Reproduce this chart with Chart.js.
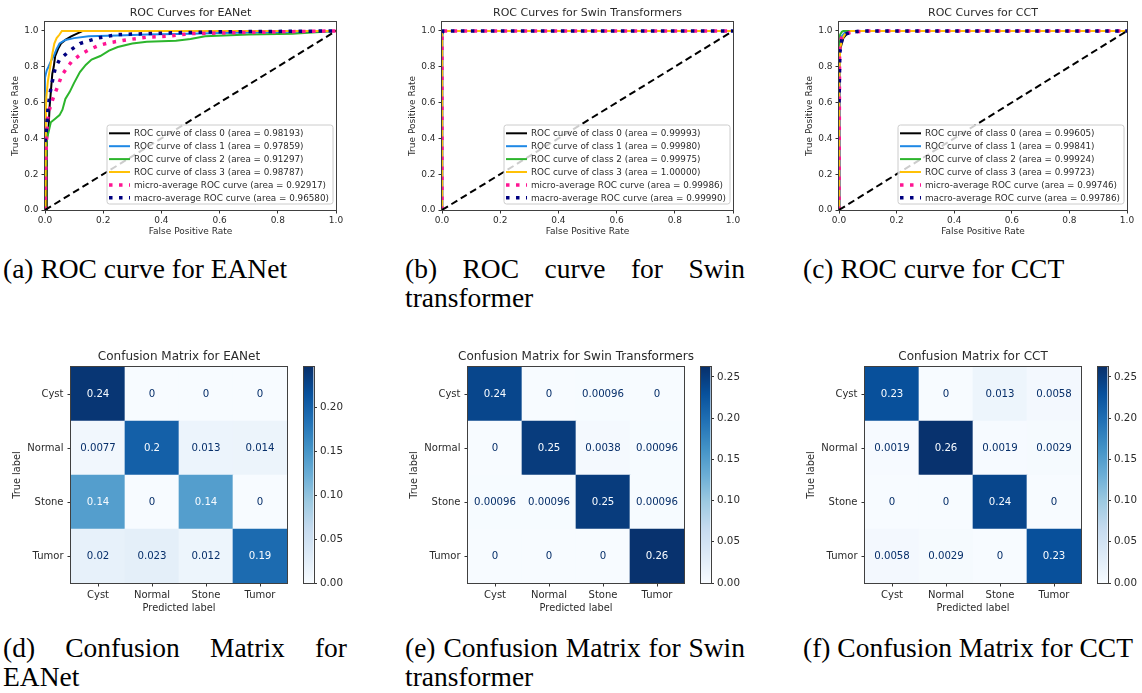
<!DOCTYPE html>
<html>
<head>
<meta charset="utf-8">
<script src="https://cdn.jsdelivr.net/npm/chart.js@4.4.1/dist/chart.umd.min.js"></script>
<style>
  html, body { margin: 0; padding: 0; background: #fff; }
  body { position: relative; width: 1142px; height: 693px; overflow: hidden; }
  canvas { position: absolute; }
  .cap { position: absolute; font-family: 'Liberation Serif', serif; font-size: 27.5px; line-height: 29px;
         color: #000; white-space: nowrap; }
  .cap .full { text-align: justify; text-align-last: justify; }
</style>
</head>
<body>

<div class="cap" style="left:3px;top:254px;width:344px">(a) ROC curve for EANet</div>
<div class="cap" style="left:405px;top:254px;width:340px"><div class="full">(b) ROC curve for Swin</div><div>transformer</div></div>
<div class="cap" style="left:803px;top:254px;width:340px">(c) ROC curve for CCT</div>
<div class="cap" style="left:3px;top:633px;width:344px"><div class="full">(d) Confusion Matrix for</div><div>EANet</div></div>
<div class="cap" style="left:405px;top:633px;width:340px"><div class="full">(e) Confusion Matrix for Swin</div><div>transformer</div></div>
<div class="cap" style="left:803px;top:633px;width:340px">(f) Confusion Matrix for CCT</div>

<script>
// ---- ROC curves: [fpr, tpr] points per class, then micro / macro averages ----
const ROC_TICKS = [0, 0.2, 0.4, 0.6, 0.8, 1.0];
const ROC_SERIES = ['ROC curve of class 0', 'ROC curve of class 1', 'ROC curve of class 2',
                    'ROC curve of class 3', 'micro-average ROC curve', 'macro-average ROC curve'];
const ROC_COLORS = ['#000000', '#1e88e5', '#2cb52c', '#ffc107', '#ff1493', '#000080'];
const DIAGONAL = [[0, 0], [1, 1]];

const EANET_CLASS0 = [[0,0],[0.006,0],[0.006,0.4],[0.012,0.45],[0.016,0.58],[0.02,0.66],[0.025,0.76],[0.03,0.8],
  [0.035,0.86],[0.045,0.9],[0.055,0.93],[0.07,0.95],[0.09,0.97],[0.11,0.985],[0.13,1],[1,1]];
const EANET_CLASS1 = [[0,0],[0,0.74],[0.006,0.78],[0.012,0.8],[0.02,0.83],[0.03,0.86],[0.04,0.9],[0.05,0.93],
  [0.07,0.95],[0.1,0.96],[0.15,0.97],[0.25,0.975],[0.35,0.98],[0.5,0.985],[0.65,0.99],[0.85,0.995],[1,1]];
const EANET_CLASS2 = [[0,0],[0.005,0.38],[0.01,0.42],[0.02,0.49],[0.035,0.51],[0.05,0.53],[0.06,0.56],[0.07,0.62],
  [0.085,0.66],[0.1,0.71],[0.12,0.77],[0.14,0.81],[0.16,0.84],[0.19,0.86],[0.22,0.89],[0.25,0.91],[0.3,0.93],
  [0.35,0.94],[0.45,0.945],[0.5,0.955],[0.55,0.97],[0.7,0.98],[0.85,0.985],[1,1]];
const EANET_CLASS3 = [[0,0],[0.002,0.35],[0.004,0.62],[0.01,0.72],[0.018,0.8],[0.025,0.87],[0.032,0.93],
  [0.04,0.96],[0.05,0.98],[0.058,1],[1,1]];
const EANET_MICRO = [[0,0],[0.003,0.3],[0.006,0.43],[0.011,0.54],[0.029,0.63],[0.046,0.7],[0.057,0.75],[0.074,0.79],
  [0.092,0.83],[0.12,0.866],[0.15,0.894],[0.183,0.918],[0.223,0.935],[0.28,0.95],[0.35,0.965],[0.43,0.972],
  [0.5,0.985],[0.65,0.99],[0.84,0.996],[1,1]];
const EANET_MACRO = [[0,0.38],[0.005,0.45],[0.01,0.56],[0.017,0.65],[0.028,0.74],[0.035,0.79],[0.05,0.84],
  [0.085,0.89],[0.12,0.93],[0.18,0.96],[0.25,0.98],[0.45,0.99],[0.6,0.995],[1,1]];
const EANET_AUC = [0.98193, 0.97859, 0.91297, 0.98787, 0.92917, 0.96580];

const SWIN_CLASS0 = [[0,0],[0,0.995],[0.002,1],[1,1]];
const SWIN_CLASS1 = [[0,0],[0,0.98],[0.008,1],[1,1]];
const SWIN_CLASS2 = [[0,0],[0,0.99],[0.005,1],[1,1]];
const SWIN_CLASS3 = [[0,0],[0,1],[1,1]];
const SWIN_MICRO = [[0,0],[0,0.99],[0.003,1],[1,1]];
const SWIN_MACRO = [[0,0.99],[0.003,1],[1,1]];
const SWIN_AUC = [0.99993, 0.99980, 0.99975, 1.00000, 0.99986, 0.99990];

const CCT_CLASS0 = [[0,0],[0,0.6],[0.003,0.88],[0.008,0.92],[0.015,0.96],[0.025,0.98],[0.035,1],[1,1]];
const CCT_CLASS1 = [[0,0],[0,0.78],[0.004,0.93],[0.01,0.97],[0.02,0.99],[0.03,1],[1,1]];
const CCT_CLASS2 = [[0,0],[0,0.93],[0.004,0.98],[0.01,0.995],[0.015,1],[1,1]];
const CCT_CLASS3 = [[0,0],[0,0.7],[0.004,0.9],[0.01,0.95],[0.02,0.98],[0.04,1],[1,1]];
const CCT_MICRO = [[0,0],[0.002,0.9],[0.008,0.96],[0.02,0.985],[0.05,0.995],[0.1,1],[1,1]];
const CCT_MACRO = [[0,0.6],[0.003,0.88],[0.01,0.955],[0.02,0.98],[0.04,0.993],[0.08,1],[1,1]];
const CCT_AUC = [0.99605, 0.99841, 0.99924, 0.99723, 0.99746, 0.99786];

// ---- confusion matrices (normalised over all samples), rows = true label ----
const CM_LABELS = ['Cyst', 'Normal', 'Stone', 'Tumor'];
const EANET_CM = [[0.24, 0, 0, 0], [0.0077, 0.2, 0.013, 0.014], [0.14, 0, 0.14, 0], [0.02, 0.023, 0.012, 0.19]];
const SWIN_CM = [[0.24, 0, 0.00096, 0], [0, 0.25, 0.0038, 0.00096], [0.00096, 0.00096, 0.25, 0.00096], [0, 0, 0, 0.26]];
const CCT_CM = [[0.23, 0, 0.013, 0.0058], [0.0019, 0.26, 0.0019, 0.0029], [0, 0, 0.24, 0], [0.0058, 0.0029, 0, 0.23]];
const EANET_CB_MAX = 0.2455, SWIN_CB_MAX = 0.262, CCT_CB_MAX = 0.262;
const CB_TICKS_EANET = [0, 0.05, 0.10, 0.15, 0.20];
const CB_TICKS_WIDE = [0, 0.05, 0.10, 0.15, 0.20, 0.25];

Chart.defaults.font.family = "'DejaVu Sans', sans-serif";
Chart.defaults.color = '#2b2b2b';
Chart.defaults.animation = false;
Chart.defaults.plugins.legend.display = false;
Chart.defaults.plugins.tooltip.enabled = false;

const INK = '#333333';
const BLUES = ['#f7fbff', '#deebf7', '#c6dbef', '#9ecae1', '#6baed6', '#4292c6', '#2171b5', '#08519c', '#08306b'];

function hexRgb(h) { return [1, 3, 5].map(i => parseInt(h.slice(i, i + 2), 16)); }

// matplotlib "Blues" lookup, t in [0, 1]
function blues(t) {
  t = Math.max(0, Math.min(1, t));
  const p = t * 8, i = Math.min(7, Math.floor(p)), f = p - i;
  const a = hexRgb(BLUES[i]), b = hexRgb(BLUES[i + 1]);
  return 'rgb(' + a.map((c, k) => Math.round(c + (b[k] - c) * f)).join(',') + ')';
}

function addCanvas(left, top, w, h) {
  const c = document.createElement('canvas');
  c.width = w; c.height = h;
  c.style.left = left + 'px'; c.style.top = top + 'px';
  document.body.appendChild(c);
  return c;
}

// full box around the axes, like matplotlib spines
const axesFrame = {
  id: 'axesFrame',
  afterDatasetsDraw(chart) {
    const a = chart.chartArea, ctx = chart.ctx;
    ctx.save();
    ctx.strokeStyle = '#404040';
    ctx.lineWidth = 1;
    ctx.strokeRect(Math.round(a.left) - 0.5, Math.round(a.top) - 0.5,
                   Math.round(a.right - a.left) + 1, Math.round(a.bottom - a.top) + 1);
    ctx.restore();
  }
};

// boxed legend in the lower right corner of the axes
const rocLegend = {
  id: 'rocLegend',
  afterDraw(chart) {
    const ctx = chart.ctx, a = chart.chartArea;
    const sets = chart.data.datasets.filter(d => d.label);
    ctx.save();
    ctx.font = "8.8px 'DejaVu Sans'";
    const textW = Math.max(...sets.map(d => ctx.measureText(d.label).width));
    const rowH = 12.9, w = 27 + textW + 4, h = 79;
    const x0 = a.right - 3 - w, y0 = a.bottom - 6 - h;
    ctx.beginPath();
    ctx.roundRect(x0, y0, w, h, 2.5);
    ctx.fillStyle = 'rgba(255,255,255,0.8)';
    ctx.fill();
    ctx.strokeStyle = '#cccccc';
    ctx.lineWidth = 1;
    ctx.stroke();
    ctx.textBaseline = 'middle';
    sets.forEach((d, i) => {
      const y = y0 + 8.3 + i * rowH;
      ctx.beginPath();
      ctx.setLineDash(d.borderDash || []);
      ctx.lineWidth = d.borderWidth;
      ctx.strokeStyle = d.borderColor;
      ctx.moveTo(x0 + 2, y);
      ctx.lineTo(x0 + 23, y);
      ctx.stroke();
      ctx.setLineDash([]);
      ctx.fillStyle = '#2b2b2b';
      ctx.fillText(d.label, x0 + 27, y + 0.5);
    });
    ctx.restore();
  }
};

// value printed in every confusion-matrix cell
const cellText = {
  id: 'cellText',
  afterDatasetsDraw(chart) {
    const ctx = chart.ctx;
    ctx.save();
    ctx.font = "10.2px 'DejaVu Sans'";
    ctx.textAlign = 'center';
    ctx.textBaseline = 'middle';
    chart.data.datasets.forEach((ds, di) => {
      chart.getDatasetMeta(di).data.forEach((bar, j) => {
        const v = ds.values[j];
        ctx.fillStyle = v >= ds.threshold ? '#f7fbff' : '#08306b';
        ctx.fillText(String(v), bar.x, (bar.y + bar.base) / 2 + 0.5);
      });
    });
    ctx.restore();
  }
};

function tickGrid() {
  return { display: true, drawOnChartArea: false, drawTicks: true, tickLength: 3.5, color: INK };
}

// empty right-hand axis so the title centres over the plot
function spacerAxis(width) {
  return { position: 'right', display: true, grid: { display: false }, border: { display: false },
           ticks: { display: false }, afterFit: s => { s.width = width; } };
}

function rocChart(title, curves, aucs, g) {
  const plotW = g.right - g.left, yW = g.yW;
  const canvas = addCanvas(g.left - yW, 0, 2 * yW + plotW, 245);
  const datasets = curves.map((pts, i) => ({
    label: ROC_SERIES[i] + ' (area = ' + aucs[i].toFixed(5) + ')',
    data: pts.map(([x, y]) => ({ x, y })),
    borderColor: ROC_COLORS[i],
    borderWidth: i < 4 ? 2 : 3.5,
    borderDash: i < 4 ? [] : [3.5, 6.5],
    order: 10 - i
  }));
  datasets.push({ data: DIAGONAL.map(([x, y]) => ({ x, y })), borderColor: '#000', borderWidth: 2,
                  borderDash: [7, 4], order: 0 });
  datasets.forEach(d => Object.assign(d, { showLine: true, pointRadius: 0, tension: 0, fill: false }));

  new Chart(canvas, {
    type: 'scatter',
    data: { datasets },
    options: {
      responsive: false,
      layout: { padding: 0 },
      plugins: {
        title: { display: true, text: title, color: '#2b2b2b', font: { size: 11, weight: 'normal' },
                 padding: { top: 6.4, bottom: 2.4 } }
      },
      scales: {
        x: {
          type: 'linear', min: 0, max: 1,
          afterBuildTicks: s => { s.ticks = ROC_TICKS.map(value => ({ value })); },
          ticks: { callback: v => v.toFixed(1), font: { size: 9 }, padding: 1.5, maxRotation: 0, autoSkip: false },
          grid: tickGrid(), border: { display: false },
          title: { display: true, text: 'False Positive Rate', font: { size: 9 }, padding: { top: 0, bottom: 7.9 } },
          afterFit: s => { s.height = 35; }
        },
        y: {
          type: 'linear', min: 0, max: 1.05,
          afterBuildTicks: s => { s.ticks = ROC_TICKS.map(value => ({ value })); },
          ticks: { callback: v => v.toFixed(1), font: { size: 9 }, padding: 3, autoSkip: false },
          grid: tickGrid(), border: { display: false },
          title: { display: true, text: 'True Positive Rate', font: { size: 9 }, padding: { top: g.yTitle, bottom: 0 } },
          afterFit: s => { s.width = yW; }
        },
        y2: spacerAxis(yW)
      }
    },
    plugins: [axesFrame, rocLegend]
  });
}

function matrixChart(title, cm, cbMax, g) {
  const yW = g.yW, canvas = addCanvas(g.left - yW, 340, 2 * yW + 216, 280);
  const flat = cm.flat(), threshold = (Math.max(...flat) + Math.min(...flat)) / 2;
  // stacked from the bottom row (Tumor) up to the top row (Cyst)
  const datasets = cm.slice().reverse().map(row => ({
    data: row.map(() => 1),
    values: row,
    threshold,
    backgroundColor: row.map(v => blues(v / cbMax)),
    borderWidth: 0, barPercentage: 1, categoryPercentage: 1
  }));

  new Chart(canvas, {
    type: 'bar',
    data: { labels: CM_LABELS, datasets },
    options: {
      responsive: false,
      layout: { padding: 0 },
      plugins: {
        title: { display: true, text: title, color: '#2b2b2b', font: { size: 12, weight: 'normal' },
                 padding: { top: 10.1, bottom: 2.5 } }
      },
      scales: {
        x: {
          stacked: true,
          ticks: { font: { size: 10 }, padding: 2.5, maxRotation: 0, autoSkip: false },
          grid: Object.assign(tickGrid(), { offset: false }), border: { display: false },
          title: { display: true, text: 'Predicted label', font: { size: 9.8 }, padding: { top: 0, bottom: 6.1 } },
          afterFit: s => { s.height = 37; }
        },
        y: {
          type: 'linear', stacked: true, min: 0, max: CM_LABELS.length,
          afterBuildTicks: s => { s.ticks = CM_LABELS.map((_, i) => ({ value: i + 0.5 })); },
          ticks: { callback: v => CM_LABELS[CM_LABELS.length - 1 - Math.floor(v)], font: { size: 10 },
                   padding: 4, autoSkip: false },
          grid: tickGrid(), border: { display: false },
          title: { display: true, text: 'True label', font: { size: 9.8 }, padding: { top: g.yTitle, bottom: 0 } },
          afterFit: s => { s.width = yW; }
        },
        y2: spacerAxis(yW)
      }
    },
    plugins: [axesFrame, cellText]
  });
}

function colorbarChart(cbMax, ticks, left) {
  const canvas = addCanvas(left - 4, 340, 60, 280);
  new Chart(canvas, {
    type: 'bar',
    data: {
      labels: [''],
      datasets: [{
        data: [cbMax], borderWidth: 0, barPercentage: 1, categoryPercentage: 1,
        backgroundColor: c => {
          const a = c.chart.chartArea;
          if (!a) return BLUES[0];
          const grad = c.chart.ctx.createLinearGradient(0, a.bottom, 0, a.top);
          BLUES.forEach((col, i) => grad.addColorStop(i / 8, col));
          return grad;
        }
      }]
    },
    options: {
      responsive: false,
      layout: { padding: { left: 4, top: 27, bottom: 37, right: 0 } },
      scales: {
        x: { display: false },
        y: {
          position: 'right', min: 0, max: cbMax,
          afterBuildTicks: s => { s.ticks = ticks.map(value => ({ value })); },
          ticks: { callback: v => v.toFixed(2), font: { size: 10.3 }, padding: 3, autoSkip: false },
          grid: tickGrid(), border: { display: false },
          afterFit: s => { s.width = 46.5; }
        }
      }
    },
    plugins: [axesFrame]
  });
}

rocChart('ROC Curves for EANet',
  [EANET_CLASS0, EANET_CLASS1, EANET_CLASS2, EANET_CLASS3, EANET_MICRO, EANET_MACRO], EANET_AUC,
  { left: 45, right: 336, yW: 45, yTitle: 10.3 });
rocChart('ROC Curves for Swin Transformers',
  [SWIN_CLASS0, SWIN_CLASS1, SWIN_CLASS2, SWIN_CLASS3, SWIN_MICRO, SWIN_MACRO], SWIN_AUC,
  { left: 442, right: 733, yW: 62, yTitle: 26.9 });
rocChart('ROC Curves for CCT',
  [CCT_CLASS0, CCT_CLASS1, CCT_CLASS2, CCT_CLASS3, CCT_MICRO, CCT_MACRO], CCT_AUC,
  { left: 839, right: 1127, yW: 79, yTitle: 44.6 });

matrixChart('Confusion Matrix for EANet', EANET_CM, EANET_CB_MAX, { left: 71, yW: 71, yTitle: 11.4 });
matrixChart('Confusion Matrix for Swin Transformers', SWIN_CM, SWIN_CB_MAX, { left: 468, yW: 88, yTitle: 28.4 });
matrixChart('Confusion Matrix for CCT', CCT_CM, CCT_CB_MAX, { left: 865, yW: 105, yTitle: 45.8 });

colorbarChart(EANET_CB_MAX, CB_TICKS_EANET, 304);
colorbarChart(SWIN_CB_MAX, CB_TICKS_WIDE, 701);
colorbarChart(CCT_CB_MAX, CB_TICKS_WIDE, 1098);
</script>
</body>
</html>
